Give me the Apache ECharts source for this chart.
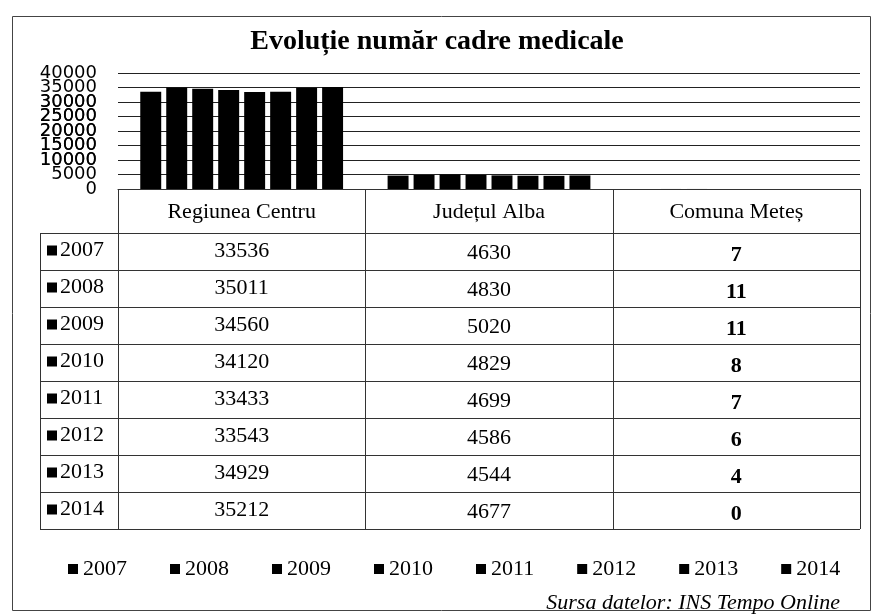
<!DOCTYPE html>
<html>
<head>
<meta charset="utf-8">
<script src="https://cdn.jsdelivr.net/npm/echarts@6/dist/echarts.min.js"></script>
<style>
html,body{margin:0;padding:0;background:#fff;}
#c{width:874px;height:616px;}
</style>
</head>
<body>
<div id="c"></div>
<script>
// ---- data ----
const years = ['2007','2008','2009','2010','2011','2012','2013','2014'];
const categories = ['Regiunea Centru','Județul Alba','Comuna Meteș'];
const regiuneaCentru = [33536,35011,34560,34120,33433,33543,34929,35212];
const judetulAlba = [4630,4830,5020,4829,4699,4586,4544,4677];
const comunaMetes = [7,11,11,8,7,6,4,0];
const titleText = 'Evoluție număr cadre medicale';
const sourceText = 'Sursa datelor: INS Tempo Online';

// ---- layout ----
const SERIF = '"Liberation Serif","Times New Roman",serif';
const SANS = '"DejaVu Sans",sans-serif';
const GRID_LEFT = 118, GRID_RIGHT = 860, GRID_TOP = 73, GRID_BOTTOM = 189;
const HEADER_BOTTOM = 233, ROW_H = 37, LABEL_LEFT = 40;

const chart = echarts.init(document.getElementById('c'), null, {renderer:'canvas'});

const series = years.map((y, i) => ({
  name: y,
  type: 'bar',
  data: [regiuneaCentru[i], judetulAlba[i], comunaMetes[i]],
  itemStyle: {color: '#000'},
  barGap: '24%',
  barCategoryGap: '18%',
  animation: false
}));

const yLabelStyle = {fontFamily: SANS, fontSize: 18, color: '#000', margin: 21, formatter: v => String(v)};

chart.setOption({
  animation: false,
  title: {
    text: titleText,
    left: 'center',
    top: 23,
    textStyle: {fontFamily: SERIF, fontWeight: 'bold', fontSize: 28, color: '#000'}
  },
  grid: {left: GRID_LEFT, right: 874 - GRID_RIGHT, top: GRID_TOP, height: GRID_BOTTOM - GRID_TOP, containLabel: false},
  xAxis: {
    type: 'category',
    data: categories,
    axisTick: {show: false},
    axisLine: {show: true, lineStyle: {color: '#333', width: 1}},
    axisLabel: {fontFamily: SERIF, fontSize: 22, color: '#000', margin: 12}
  },
  yAxis: [{
    // main axis: gridlines, min and max labels
    type: 'value',
    position: 'left',
    min: 0, max: 40000, interval: 5000,
    axisLine: {show: false},
    axisTick: {show: false},
    splitLine: {lineStyle: {color: '#222', width: 1}},
    axisLabel: Object.assign({showMinLabel: true, showMaxLabel: true}, yLabelStyle)
  }, {
    // same scale, supplies the labels next to min and max
    type: 'value',
    position: 'left',
    offset: 0,
    min: 0, max: 40000, interval: 5000,
    axisLine: {show: false},
    axisTick: {show: false},
    splitLine: {show: false},
    axisLabel: Object.assign({showMinLabel: false, showMaxLabel: false}, yLabelStyle)
  }],
  legend: {
    data: years,
    left: 63,
    top: 553,
    icon: 'rect',
    itemWidth: 10,
    itemHeight: 10,
    itemGap: 43,
    textStyle: {fontFamily: SERIF, fontSize: 22, color: '#000'}
  },
  series: series
});

// ---- data table drawn from the axis scale ----
const colCenters = categories.map(c => chart.convertToPixel({xAxisIndex: 0}, c));
const half = (colCenters[1] - colCenters[0]) / 2;
const colEdges = [colCenters[0] - half, colCenters[0] + half, colCenters[1] + half, colCenters[2] + half];
const axisY = chart.convertToPixel({yAxisIndex: 0}, 0);
const tableBottom = HEADER_BOTTOM + ROW_H * years.length;
const lineStyle = {stroke: '#333', lineWidth: 1};
const g = [];

// outer frame
g.push({type: 'rect', shape: {x: 12.5, y: 16.5, width: 858, height: 594}, style: {fill: 'none', stroke: '#444', lineWidth: 1}, silent: true});

for (let k = 0; k <= years.length; k++) {
  const y = Math.round(HEADER_BOTTOM + k * ROW_H) + 0.5;
  g.push({type: 'line', shape: {x1: LABEL_LEFT, y1: y, x2: colEdges[3], y2: y}, style: lineStyle, silent: true});
}
g.push({type: 'line', shape: {x1: LABEL_LEFT + 0.5, y1: HEADER_BOTTOM, x2: LABEL_LEFT + 0.5, y2: tableBottom}, style: lineStyle, silent: true});
colEdges.forEach(x => {
  const xx = Math.round(x) + 0.5;
  g.push({type: 'line', shape: {x1: xx, y1: axisY, x2: xx, y2: tableBottom}, style: lineStyle, silent: true});
});

const columns = [regiuneaCentru, judetulAlba, comunaMetes];
years.forEach((yr, i) => {
  const yc = HEADER_BOTTOM + i * ROW_H + ROW_H / 2 - 1;
  g.push({type: 'rect', shape: {x: 47, y: yc - 5, width: 10, height: 10}, style: {fill: '#000'}, silent: true});
  g.push({type: 'text', x: 60, y: yc, style: {text: yr, font: '22px ' + SERIF, fill: '#000', textAlign: 'left', textVerticalAlign: 'middle'}, silent: true});
  columns.forEach((col, j) => {
    g.push({type: 'text', x: colCenters[j], y: yc + 1 + j * 2, style: {
      text: String(col[i]),
      font: (j === 2 ? 'bold ' : '') + '22px ' + SERIF,
      fill: '#000', textAlign: 'center', textVerticalAlign: 'middle'}, silent: true});
  });
});

// source note
g.push({type: 'text', x: 840, y: 603, style: {text: sourceText, font: 'italic 22px ' + SERIF, fill: '#000', textAlign: 'right', textVerticalAlign: 'middle'}, silent: true});

chart.setOption({graphic: g});
</script>
</body>
</html>
